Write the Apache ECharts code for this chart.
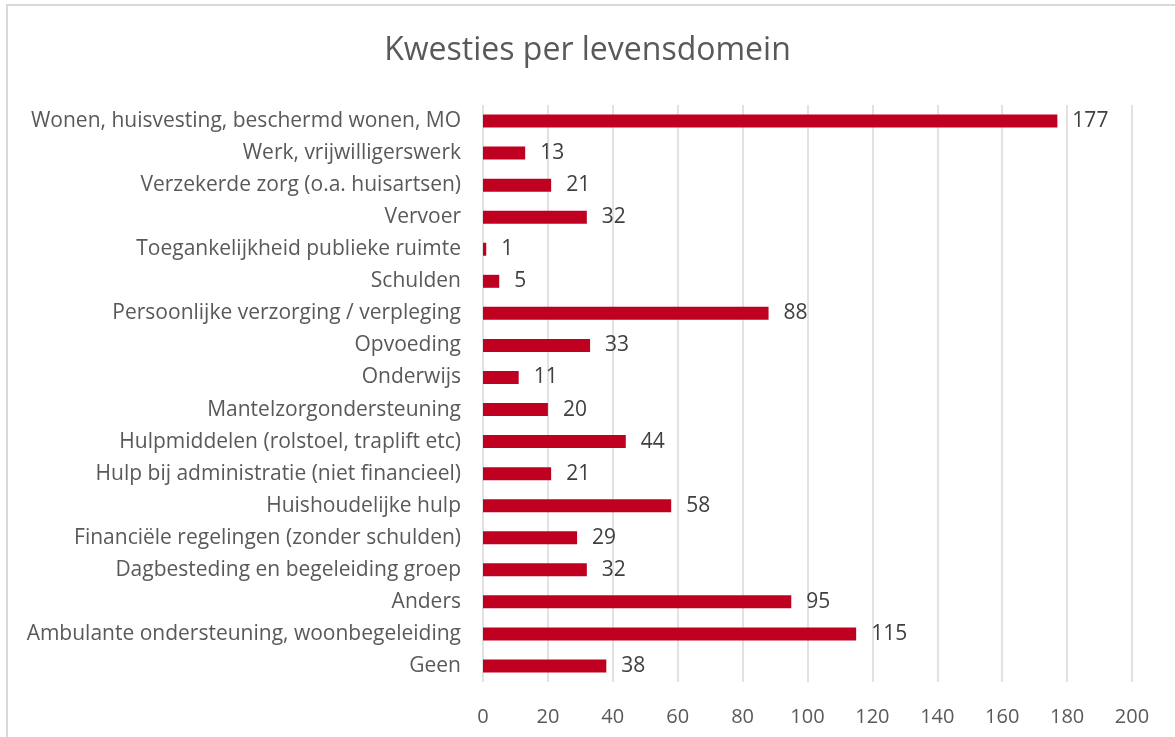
<!DOCTYPE html>
<html>
<head>
<meta charset="utf-8">
<script src="https://cdn.jsdelivr.net/npm/echarts@6/dist/echarts.min.js"></script>
<style>
  html, body { margin: 0; padding: 0; background: #fff; }
  #chart { width: 1175px; height: 737px; }
</style>
</head>
<body>
<div id="chart"></div>
<script>
var categories = [
  'Wonen, huisvesting, beschermd wonen, MO',
  'Werk, vrijwilligerswerk',
  'Verzekerde zorg (o.a. huisartsen)',
  'Vervoer',
  'Toegankelijkheid publieke ruimte',
  'Schulden',
  'Persoonlijke verzorging / verpleging',
  'Opvoeding',
  'Onderwijs',
  'Mantelzorgondersteuning',
  'Hulpmiddelen (rolstoel, traplift etc)',
  'Hulp bij administratie (niet financieel)',
  'Huishoudelijke hulp',
  'Financiële regelingen (zonder schulden)',
  'Dagbesteding en begeleiding groep',
  'Anders',
  'Ambulante ondersteuning, woonbegeleiding',
  'Geen'
];
var values = [177, 13, 21, 32, 1, 5, 88, 33, 11, 20, 44, 21, 58, 29, 32, 95, 115, 38];

var font = '"Open Sans", "Noto Sans", sans-serif';

var myChart = echarts.init(document.getElementById('chart'));
myChart.setOption({
  animation: false,
  title: {
    text: 'Kwesties per levensdomein',
    left: 'center',
    top: 30,
    textStyle: { fontFamily: font, fontSize: 32, fontWeight: 'normal', color: '#595959' }
  },
  graphic: [{
    type: 'rect',
    shape: { x: 7, y: 5, width: 1200, height: 800 },
    style: { fill: 'none', stroke: '#d9d9d9', lineWidth: 2 },
    silent: true
  }],
  grid: { left: 483, right: 43, top: 105, bottom: 55 },
  xAxis: {
    type: 'value',
    min: 0,
    max: 200,
    interval: 20,
    axisLine: { show: false },
    axisTick: { show: false },
    axisLabel: { fontFamily: font, fontSize: 20, color: '#595959', margin: 25 },
    splitLine: { lineStyle: { color: '#d9d9d9', width: 1.5 } }
  },
  yAxis: {
    type: 'category',
    data: categories,
    inverse: true,
    axisLine: { show: false },
    axisTick: { show: false },
    axisLabel: { fontFamily: font, fontSize: 21, color: '#595959', margin: 22 }
  },
  series: [{
    type: 'bar',
    data: values,
    barWidth: 13,
    itemStyle: { color: '#C00020' },
    label: {
      show: true,
      position: 'right',
      distance: 15,
      fontFamily: font,
      fontSize: 21,
      color: '#404040'
    }
  }]
});
</script>
</body>
</html>
